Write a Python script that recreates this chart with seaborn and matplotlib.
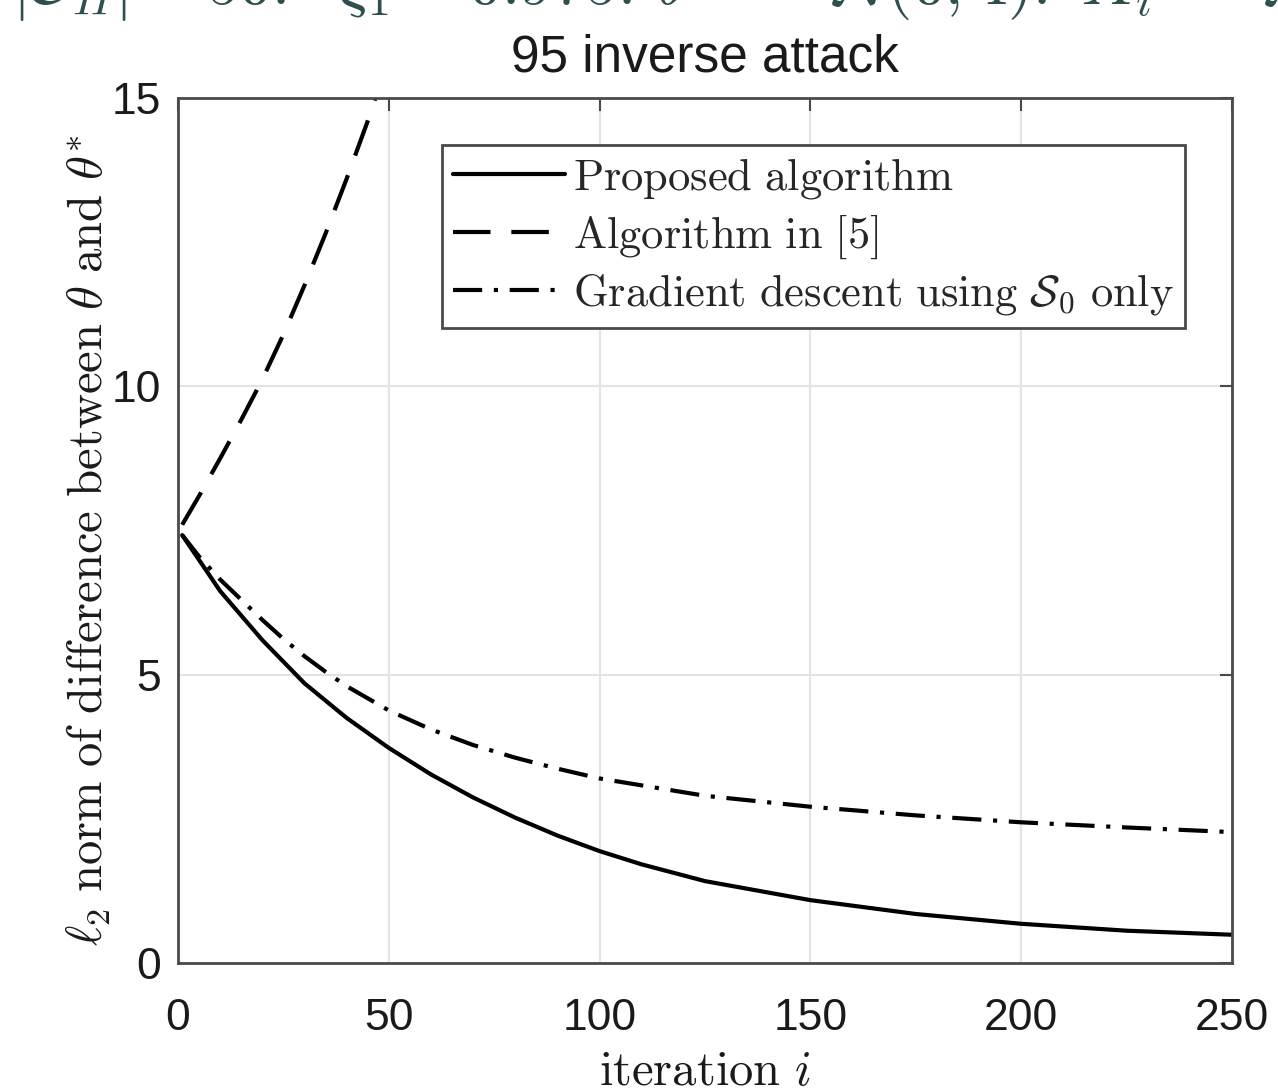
import pandas as pd
import matplotlib
matplotlib.use("Agg")
import matplotlib.pyplot as plt
import seaborn as sns

# values
iters_proposed = [1, 10, 20, 30, 40, 50, 60, 70, 80, 90, 100,
                  110, 125, 150, 175, 200, 225, 250]
err_proposed = [7.42, 6.45, 5.60, 4.85, 4.25, 3.73, 3.27, 2.87, 2.52, 2.21, 1.94,
                1.71, 1.42, 1.09, 0.85, 0.68, 0.56, 0.49]

iters_ref5 = [1, 5, 10, 15, 20, 25, 30, 35, 40, 45, 50]
err_ref5 = [7.60, 8.10, 8.75, 9.42, 10.12, 10.90, 11.75, 12.65, 13.60, 14.60, 15.70]

iters_gd = [1, 5, 10, 15, 20, 25, 30, 35, 40, 50, 60, 70, 80, 90, 100,
            125, 150, 175, 200, 225, 250]
err_gd = [7.42, 7.05, 6.65, 6.30, 5.95, 5.62, 5.32, 5.05, 4.80, 4.38, 4.05,
          3.78, 3.56, 3.37, 3.20, 2.90, 2.71, 2.56, 2.44, 2.35, 2.27]

labels = [r"$\mathrm{Proposed\ algorithm}$",
          r"$\mathrm{Algorithm\ in\ [5]}$",
          r"$\mathrm{Gradient\ descent\ using\ }\mathcal{S}_0\mathrm{\ only}$"]

x_ticks = [0, 50, 100, 150, 200, 250]
y_ticks = [0, 5, 10, 15]

sns.set_theme(style="whitegrid")
plt.rcParams['font.family'] = ['Liberation Sans', 'DejaVu Sans']
plt.rcParams['mathtext.fontset'] = 'cm'

fig = plt.figure(figsize=(12.78, 10.92), dpi=100)
ax = fig.add_axes([178/1278, 1 - 963/1092, 1054/1278, 865/1092])

sns.lineplot(x=iters_proposed, y=err_proposed, ax=ax, color='black', lw=3,
             linestyle='-', label=labels[0])
sns.lineplot(x=iters_ref5, y=err_ref5, ax=ax, color='black', lw=3,
             linestyle=(0, (9, 5)), label=labels[1])
sns.lineplot(x=iters_gd, y=err_gd, ax=ax, color='black', lw=3,
             linestyle=(0, (7, 2.8, 1, 2.8)), label=labels[2])

ax.set_xlim(0, 250)
ax.set_ylim(0, 15)
ax.set_xticks(x_ticks)
ax.set_yticks(y_ticks)

ax.set_facecolor('white')
ax.grid(True, color='#e3e3e3', lw=1.5)
for s in ax.spines.values():
    s.set_visible(True)
    s.set_color('#4a4a4a')
    s.set_linewidth(2)

ax.tick_params(axis='both', direction='in', length=9, width=1.5,
               colors='#4a4a4a', labelcolor='#1a1a1a', labelsize=32,
               top=True, right=True)
ax.tick_params(axis='x', pad=25)
ax.tick_params(axis='y', pad=12)

ax.set_title("95 inverse attack", fontsize=37, color='#1a1a1a', pad=19)

ax.set_xlabel(r"$\mathrm{iteration}\ i$", fontsize=35, color='#1a1a1a')
ax.xaxis.set_label_coords(0.5, -0.1)
ax.set_ylabel(r"$\ell_2\ \mathrm{norm\ of\ difference\ between}\ \theta\ \mathrm{and}\ \theta^{*}$",
              fontsize=35, color='#1a1a1a')
ax.yaxis.set_label_coords(-0.062, 0.489)

handles, labs = ax.get_legend_handles_labels()
leg = ax.legend(handles, labs, loc='upper right', bbox_to_anchor=(0.955, 0.946),
                borderaxespad=0, fontsize=32, handlelength=2.5, handletextpad=0.18,
                labelspacing=0.26, borderpad=0.25, frameon=True, fancybox=False,
                framealpha=1, edgecolor='#4a4a4a')
leg.get_frame().set_linewidth(2)

# top line of a caption that is clipped by the figure edge
fig.text(12/1278, 1 - 4/1092,
         r"$|\mathcal{S}_H| = 50.\ \ \xi_1 = 0.975.\,\theta^{*} \ \sim\ \mathcal{N}(0, 4).\ X_i \ \sim\ \mathcal{N}(0, I)$",
         fontsize=47, ha='left', va='baseline', color='#2f4f4f')

fig.savefig("out.png", dpi=100)
